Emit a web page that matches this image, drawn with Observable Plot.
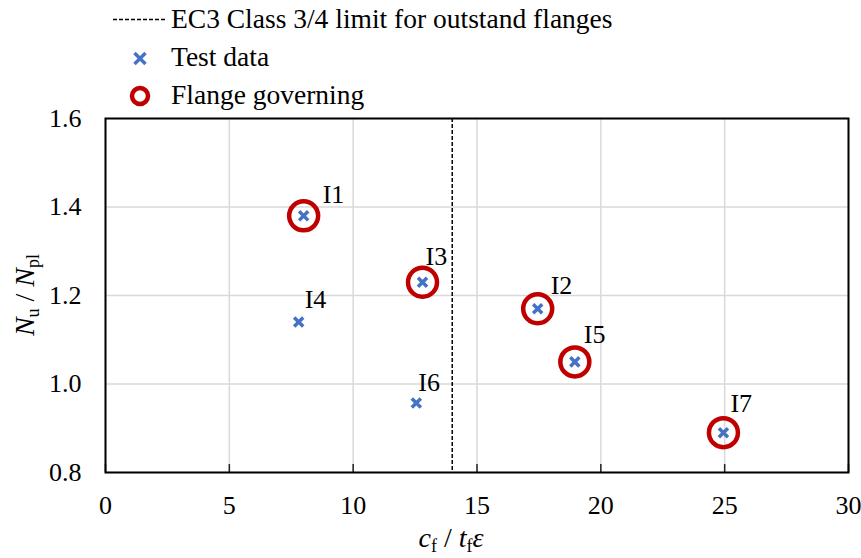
<!DOCTYPE html>
<html>
<head>
<meta charset="utf-8">
<script src="https://cdn.jsdelivr.net/npm/d3@7"></script>
<script src="https://cdn.jsdelivr.net/npm/@observablehq/plot@0.6"></script>
<style>
  html, body { margin: 0; padding: 0; background: #fff; }
  body { width: 861px; height: 558px; overflow: hidden; font-family: "Liberation Serif", "Times New Roman", serif; }
  svg { display: block; }
  #legend { overflow: visible; }
  #chart svg text { font-family: "Liberation Serif", "Times New Roman", serif; }
</style>
</head>
<body>
<svg id="legend" width="861" height="100" font-family="Liberation Serif, Times New Roman, serif" font-size="27.5">
  <line x1="113" x2="166" y1="19.5" y2="19.5" stroke="#000" stroke-width="1.5" stroke-dasharray="4,2"/>
  <text x="171" y="28">EC3 Class 3/4 limit for outstand flanges</text>
  <path d="M134.5,53 L145.5,64 M145.5,53 L134.5,64" stroke="#4472C4" stroke-width="3.5" fill="none"/>
  <text x="171" y="66">Test data</text>
  <circle cx="140" cy="96" r="8" stroke="#C00000" stroke-width="4.5" fill="none"/>
  <text x="171" y="104">Flange governing</text>
</svg>
<div id="chart"></div>
<script>
const specimens = ["I1", "I2", "I3", "I4", "I5", "I6", "I7"];
const slenderness = [8.0, 17.45, 12.8, 7.8, 18.95, 12.55, 24.95];
const strengthRatio = [1.38, 1.17, 1.23, 1.14, 1.05, 0.957, 0.89];
const flangeGoverning = [true, true, true, false, true, false, true];
const classLimit = [14];
const xTicks = [0, 5, 10, 15, 20, 25, 30];
const yTicks = [0.8, 1.0, 1.2, 1.4, 1.6];

const data = specimens.map((s, i) => ({
  name: s, x: slenderness[i], y: strengthRatio[i], fg: flangeGoverning[i]
}));

// label placement (pixel offsets from each point, as in the original figure)
const labelOffset = {
  I1: [19, -21], I2: [13, -23], I3: [3, -26], I4: [6, -22],
  I5: [9, -27], I6: [2, -20], I7: [7, -29]
};

const font = "Liberation Serif, Times New Roman, serif";

const chart = Plot.plot({
  width: 861,
  height: 458,
  marginTop: 18,
  marginLeft: 105,
  marginRight: 13,
  marginBottom: 86,
  style: { fontFamily: font, fontSize: "26px", color: "#000", background: "transparent", overflow: "visible" },
  x: { domain: [0, 30], ticks: xTicks, label: null },
  y: { domain: [0.8, 1.6], ticks: yTicks, label: null },
  marks: [
    Plot.gridX(xTicks, { stroke: "#d9d9d9", strokeOpacity: 1, strokeWidth: 1.5 }),
    Plot.gridY(yTicks, { stroke: "#d9d9d9", strokeOpacity: 1, strokeWidth: 1.5 }),
    Plot.ruleX(xTicks, { y1: 0.8, y2: 0.818, stroke: "#222", strokeWidth: 1.5 }),
    Plot.ruleX(classLimit, { stroke: "#000", strokeWidth: 1.5, strokeDasharray: "4,2" }),
    Plot.axisX(xTicks, { tickSize: 0, tickPadding: 23, fontSize: 26, fontFamily: font, fontVariant: "normal", tickFormat: d => String(d) }),
    Plot.axisY(yTicks, { tickSize: 0, tickPadding: 24, fontSize: 26, fontFamily: font, fontVariant: "normal", tickFormat: d => d.toFixed(1) }),
    Plot.frame({ stroke: "#000", strokeWidth: 2 }),
    Plot.dot(data.filter(d => d.fg), { x: "x", y: "y", r: 14.5, stroke: "#C00000", strokeWidth: 4.5, fill: "none" }),
    Plot.dot(data, { x: "x", y: "y", symbol: "times", r: 4.2, stroke: "#4472C4", strokeWidth: 3.5 }),
    ...data.map(d => Plot.text([d], {
      x: "x", y: "y", text: "name",
      dx: labelOffset[d.name][0], dy: labelOffset[d.name][1],
      textAnchor: "start", fontSize: 26, fontFamily: font, fill: "#000"
    }))
  ]
});
document.getElementById("chart").appendChild(chart);

// axis titles with subscripts
const svg = d3.select(chart);
const xt = svg.append("text")
  .attr("x", 451)
  .attr("y", 447)
  .attr("text-anchor", "middle")
  .attr("font-size", 28)
  .attr("font-family", font);
xt.append("tspan").attr("font-style", "italic").text("c");
xt.append("tspan").attr("font-size", 18).attr("dy", 5).text("f");
xt.append("tspan").attr("dy", -5).text(" / ");
xt.append("tspan").attr("font-style", "italic").text("t");
xt.append("tspan").attr("font-size", 18).attr("dy", 5).text("f");
xt.append("tspan").attr("dy", -5).attr("font-style", "italic").text("ε");

const yt = svg.append("text")
  .attr("transform", `translate(34, ${18 + (458 - 18 - 86) / 2}) rotate(-90)`)
  .attr("text-anchor", "middle")
  .attr("font-size", 28)
  .attr("font-family", font);
yt.append("tspan").attr("font-style", "italic").text("N");
yt.append("tspan").attr("font-size", 18).attr("dy", 5).text("u");
yt.append("tspan").attr("dy", -5).text(" / ");
yt.append("tspan").attr("font-style", "italic").text("N");
yt.append("tspan").attr("font-size", 18).attr("dy", 5).text("pl");
</script>
</body>
</html>
